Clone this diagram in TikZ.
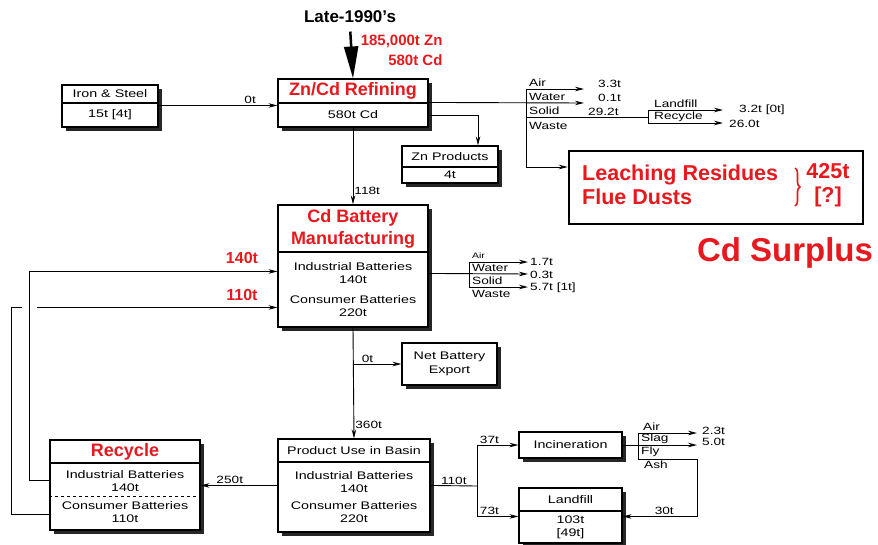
\documentclass[tikz,border=0pt]{standalone}
\usepackage{fontspec}
\setmainfont{Liberation Sans}
\newfontfamily\widefont[FakeStretch=1.3]{Liberation Sans}
\usetikzlibrary{arrows.meta,shadows,decorations.pathreplacing}
\definecolor{cdred}{RGB}{230,25,30}

\tikzset{
  flowbox/.style={draw, line width=1.1pt, fill=white, inner sep=1pt, align=center,
    font=\widefont\fontsize{11}{13}\selectfont,
    drop shadow={shadow xshift=3.5pt, shadow yshift=-3.5pt, fill=black!85, opacity=1}},
  redhead/.style={font=\bfseries\fontsize{18}{22}\selectfont, text=cdred},
  bigred/.style={font=\bfseries\fontsize{21.5}{24}\selectfont, text=cdred, inner sep=0pt},
  flow/.style={line width=0.9pt},
  arr/.style={flow, -{Stealth[length=9pt,width=4.5pt]}},
  qty/.style={font=\widefont\fontsize{10.5}{12}\selectfont, inner sep=1pt},
  emit/.style={qty, anchor=west},
}

\begin{document}
\begin{tikzpicture}[x=1pt, y=-1pt]
  \useasboundingbox (0,0) rectangle (878,544);

  % boxes
  \node[flowbox, minimum width=96pt, minimum height=18pt] (ironT) at (110,94) {Iron \& Steel};
  \node[flowbox, minimum width=96pt, minimum height=24pt] (ironB) at (110,115) {15t [4t]};

  \node[flowbox, redhead, minimum width=150pt, minimum height=24pt] (refT) at (353,91) {Zn/Cd Refining};
  \node[flowbox, minimum width=150pt, minimum height=24pt] (refB) at (353,115) {580t Cd};

  \node[flowbox, minimum width=96pt, minimum height=21pt] (znT) at (450,156.5) {Zn Products};
  \node[flowbox, minimum width=96pt, minimum height=16pt] (znB) at (450,175) {4t};

  \node[flowbox, redhead, minimum width=150pt, minimum height=47pt] (cdbT) at (353,228.5) {Cd Battery\\Manufacturing};
  \node[flowbox, minimum width=150pt, minimum height=75pt] (cdbB) at (353,289.5)
    {Industrial Batteries\\140t\\[7pt]Consumer Batteries\\220t};

  \node[flowbox, minimum width=95pt, minimum height=42pt, font=\widefont\fontsize{11}{14}\selectfont] (nbe) at (449.5,364) {Net Battery\\Export};

  \node[flowbox, minimum width=152pt, minimum height=23pt] (useT) at (354,450.5) {Product Use in Basin};
  \node[flowbox, minimum width=152pt, minimum height=70pt] (useB) at (354,497)
    {Industrial Batteries\\140t\\[4pt]Consumer Batteries\\220t};

  \node[flowbox, redhead, minimum width=150pt, minimum height=23pt] (recT) at (125,451.5) {Recycle};
  \node[flowbox, minimum width=150pt, minimum height=67pt] (recB) at (125,496.5)
    {Industrial Batteries\\140t\\[5pt]Consumer Batteries\\110t};
  \draw[dashed, line width=0.9pt] (recB.west) -- (recB.east);

  \node[flowbox, minimum width=103pt, minimum height=26pt] (incin) at (570.5,445) {Incineration};
  \node[flowbox, minimum width=103pt, minimum height=23pt] (lfT) at (570.5,499.5) {Landfill};
  \node[flowbox, minimum width=103pt, minimum height=32pt] (lfB) at (570.5,527) {103t\\{[49t]}};

  \node[draw, line width=2.5pt, minimum width=294pt, minimum height=73pt] (leach) at (716,187.5) {};
  \node[bigred, anchor=west, align=left] (leachTxt) at (582,185) {Leaching Residues\\Flue Dusts};
  \node[bigred, align=center] (leachQty) at (828,185) {425t\\{[?]}};
  \draw[cdred, line width=1.6pt, decorate, decoration={brace, amplitude=5pt}] (795,168) -- (795,206);

  \node[font=\bfseries\fontsize{33}{36}\selectfont, text=cdred] (surplus) at (785,253) {Cd Surplus};

  % input
  \node[font=\bfseries\fontsize{17}{20}\selectfont] (late) at (350,17) {Late-1990's};
  \draw[line width=2.5pt, -{Triangle[length=32pt,width=14pt]}, shorten <=5pt] (late.south) -- (refT.north);
  \node[font=\bfseries\fontsize{15}{20}\selectfont, text=cdred, align=right, anchor=north east] (input) at (446,31) {185,000t Zn\\580t Cd};

  % main flows
  \draw[arr] ([yshift=-3pt]ironB.north east) -- node[qty, above, pos=0.77] {0t} ([yshift=-3pt]refB.north west);
  \draw[arr] (refB.south) -- node[qty, right, pos=0.83] {118t} (cdbT.north);
  \draw[arr] (refB.east) -| ([xshift=28pt]znT.north);
  \draw[arr] (cdbB.south) -- node[qty, right, pos=0.88] {360t} (useT.north);
  \draw[arr] (cdbB.south |- nbe.west) -- node[qty, above, pos=0.3] {0t} (nbe.west);
  \draw[arr] ([yshift=-24pt]useB.north west) -- node[qty, above, pos=0.62] {250t} ([yshift=-23pt]recB.north east);

  % recycle loop
  \draw[arr] ([yshift=-52pt]recB.north west) -- ++(-38,0) |- ([yshift=-56pt]cdbB.north west);
  \fill[white] (22,305) rectangle (37,311);
  \draw[arr] ([yshift=-18pt]recB.north west) -- ++(-20,0) |- ([yshift=-20pt]cdbB.north west);
  \node[font=\bfseries\fontsize{16}{18}\selectfont, text=cdred] (in140) at (242,258) {140t};
  \node[font=\bfseries\fontsize{16}{18}\selectfont, text=cdred] (in110) at (242,295) {110t};

  % refining emissions
  \coordinate (rTop) at (526,89);
  \coordinate (rSol) at (526,117);
  \coordinate (rBot) at (526,167);
  \coordinate (rAirE) at (584,89);
  \coordinate (rWatE) at (584,103);
  \coordinate (lrTop) at (648,110);
  \coordinate (lrBot) at (648,123);
  \coordinate (lrMid) at (648,117);
  \coordinate (rLfE) at (723,110);
  \coordinate (rRcE) at (723,123);
  \draw[flow] (rTop) -- (rBot);
  \draw[arr] (rTop) -- (rAirE);
  \draw[arr] (refB.north east) -- (rWatE);
  \draw[flow] (rSol) -- (lrMid);
  \draw[flow] (lrTop) -- (lrBot);
  \draw[arr] (lrTop) -- (rLfE);
  \draw[arr] (lrBot) -- (rRcE);
  \draw[arr] (rBot) -- (leach.west |- rBot);
  \node[emit] (rAir) at (528,83) {Air};
  \node[emit] (rWat) at (528,97) {Water};
  \node[emit] (rSolT) at (528,111) {Solid};
  \node[emit] (rWas) at (528,126) {Waste};
  \node[emit] (rAirQ) at (597,84) {3.3t};
  \node[emit] (rWatQ) at (597,98) {0.1t};
  \node[emit] (rSolQ) at (587,112) {29.2t};
  \node[emit] (rLf) at (653,104) {Landfill};
  \node[emit] (rRc) at (653,117) {Recycle};
  \node[emit] (rLfQ) at (738,110) {3.2t [0t]};
  \node[emit] (rRcQ) at (728,124) {26.0t};

  % battery emissions
  \coordinate (bTop) at (469,262);
  \coordinate (bSol) at (469,287);
  \coordinate (bAirE) at (528,262);
  \coordinate (bWatE) at (528,274);
  \coordinate (bSolE) at (528,287);
  \draw[flow] (bTop) -- (bSol);
  \draw[arr] (bTop) -- (bAirE);
  \draw[arr] ([yshift=-22pt]cdbB.north east) -- (bWatE);
  \draw[arr] (bSol) -- (bSolE);
  \node[emit, font=\widefont\fontsize{8}{9}\selectfont] (bAir) at (471,256) {Air};
  \node[emit] (bWat) at (471,268) {Water};
  \node[emit] (bSolT) at (471,281) {Solid};
  \node[emit] (bWas) at (471,294) {Waste};
  \node[emit] (bAirQ) at (529,262) {1.7t};
  \node[emit] (bWatQ) at (529,275) {0.3t};
  \node[emit] (bSolQ) at (529,288) {5.7t [1t]};

  % disposal
  \coordinate (spl) at (477,486);
  \draw[flow] ([yshift=-24pt]useB.north east) -- node[qty, above] {110t} (spl);
  \draw[arr] (spl) |- node[qty, above, pos=0.65] {37t} (incin.west);
  \draw[arr] (spl) |- node[qty, above, pos=0.65] {73t} ([yshift=-6pt]lfB.north west);

  % incineration emissions
  \coordinate (iTop) at (638,433);
  \coordinate (iFly) at (638,459);
  \coordinate (iAirE) at (697,433);
  \coordinate (iSlgE) at (697,445);
  \coordinate (iFlyE) at (697,459);
  \draw[flow] (iTop) -- (iFly);
  \draw[arr] (iTop) -- (iAirE);
  \draw[arr] (incin.east) -- (iSlgE);
  \draw[arr] (iFly) -- (iFlyE) |- node[qty, above, pos=0.72] {30t} ([yshift=-6pt]lfB.north east);
  \node[emit] (iAir) at (642,427) {Air};
  \node[emit] (iSlg) at (640,439) {Slag};
  \node[emit] (iFlyT) at (640,452) {Fly};
  \node[emit] (iAsh) at (643,465) {Ash};
  \node[emit] (iAirQ) at (701,431) {2.3t};
  \node[emit] (iSlgQ) at (701,442) {5.0t};
\end{tikzpicture}
\end{document}
